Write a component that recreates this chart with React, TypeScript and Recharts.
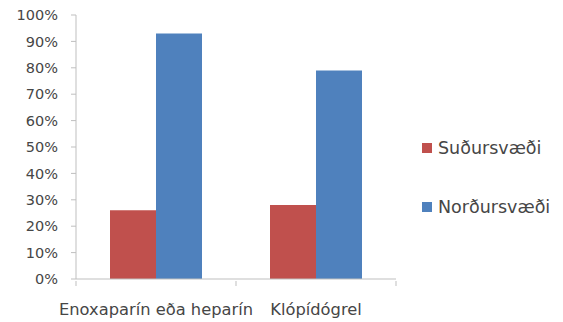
import { BarChart, Bar, XAxis, YAxis, Legend } from "recharts"

// share of patients (%) per drug, by region
const drugs = ["Enoxaparín eða heparín", "Klópídógrel"]
const sudursvaedi = [26, 28]
const nordursvaedi = [93, 79]
const percentTicks = [0, 10, 20, 30, 40, 50, 60, 70, 80, 90, 100]
const seriesOrder = ["Suðursvæði", "Norðursvæði"]

const seriesColors = { south: "#C0504D", north: "#4F81BD" }
const axisColor = "#BFBFBF"
const textColor = "#464646"
const font = "'DejaVu Sans', sans-serif"
const legendWidth = 140

const data = drugs.map((name, i) => ({ name, south: sudursvaedi[i], north: nordursvaedi[i] }))

// category label plus the small tick marks on the band edges
function CategoryTick({ x, y, payload, index, visibleTicksCount }: any) {
  const half = payload.offset ?? 0
  const last = index === visibleTicksCount - 1
  return (
    <g>
      <line x1={x - half} x2={x - half} y1={y} y2={y + 5} stroke={axisColor} />
      {last && <line x1={x + half} x2={x + half} y1={y} y2={y + 5} stroke={axisColor} />}
      <text x={x} y={y + 34} textAnchor="middle" fill={textColor} fontSize={16.3} fontFamily={font}>
        {payload.value}
      </text>
    </g>
  )
}

function LegendList({ payload }: any) {
  const items = [...(payload ?? [])].sort(
    (a: any, b: any) => seriesOrder.indexOf(a.value) - seriesOrder.indexOf(b.value)
  )
  return (
    <div style={{ display: "flex", flexDirection: "column", gap: 39, fontFamily: font }}>
      {items.map((item: any) => (
        <div
          key={item.value}
          style={{ display: "flex", alignItems: "center", height: 20, fontSize: 17.5, color: textColor }}
        >
          <span style={{ width: 10, height: 10, background: item.color, marginRight: 6, display: "inline-block" }} />
          {item.value}
        </div>
      ))}
    </div>
  )
}

export default function App() {
  return (
    <div style={{ position: "absolute", left: 0, top: 0, background: "#fff" }}>
      <BarChart
        width={563}
        height={322}
        data={data}
        // the vertical legend on the right adds its own width to this margin
        margin={{ top: 15, right: 167 - legendWidth, left: 0, bottom: 0 }}
        barCategoryGap="21.25%"
        barGap={0}
      >
        <XAxis
          dataKey="name"
          height={43}
          interval={0}
          axisLine={{ stroke: axisColor }}
          tickLine={false}
          tickSize={0}
          tick={<CategoryTick />}
        />
        <YAxis
          width={76}
          domain={[0, 100]}
          ticks={percentTicks}
          tickFormatter={(v: number) => `${v}%`}
          tickSize={5}
          tickMargin={13}
          axisLine={{ stroke: axisColor }}
          tickLine={{ stroke: axisColor }}
          tick={{ fill: textColor, fontSize: 14.5, fontFamily: font }}
        />
        <Legend
          layout="vertical"
          align="right"
          verticalAlign="top"
          content={<LegendList />}
          wrapperStyle={{ left: 422, top: 138, width: legendWidth }}
        />
        <Bar dataKey="south" name="Suðursvæði" fill={seriesColors.south} isAnimationActive={false} />
        <Bar dataKey="north" name="Norðursvæði" fill={seriesColors.north} isAnimationActive={false} />
      </BarChart>
    </div>
  )
}
